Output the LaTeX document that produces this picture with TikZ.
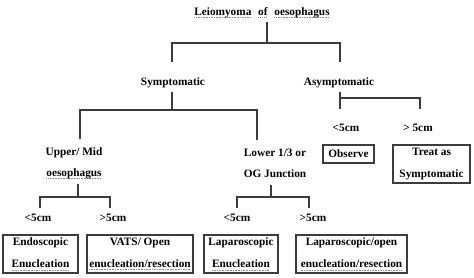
\documentclass[tikz,border=0pt]{standalone}
\usepackage{fontspec}
\setmainfont{Liberation Serif}
\usepackage{tikz}
\definecolor{spellgrey}{HTML}{8C8C8C}
\definecolor{linegrey}{HTML}{3C3C3C}
\newsavebox\spellbox
\newcommand\spell[1]{\sbox\spellbox{#1}\rlap{\textcolor{spellgrey}{\hbox to\wd\spellbox{\xleaders\hbox{\rule[-2.8pt]{1pt}{0.7pt}\kern0.6pt}\hfill}}}\usebox\spellbox}

\begin{document}
\begin{tikzpicture}[x=1pt, y=1pt,
  label/.style={inner sep=2pt, font=\fontsize{11.3}{21}\selectfont\bfseries, align=center},
  choice/.style={draw=linegrey, line width=1.3pt, inner sep=1pt, minimum height=38pt,
    align=center, font=\fontsize{11.3}{22}\selectfont\bfseries},
  link/.style={draw=linegrey, line width=1.2pt}]
  \useasboundingbox (0,0) rectangle (474,-277);
  % headings
  \node[label, anchor=base] (root) at (262,-15.2) {\spell{Leiomyoma}\hspace{0.6em}\spell{of}\hspace{0.6em}\spell{oesophagus}};
  \node[label, anchor=base] (symp) at (173,-85) {Symptomatic};
  \node[label, anchor=base] (asym) at (339,-85) {Asymptomatic};
  \node[label] (upper) at (74,-163) {Upper/ Mid\\\spell{oesophagus}};
  \node[label] (lower) at (275,-163) {Lower 1/3 or\\OG Junction};
  % size labels
  \node[label, anchor=base] (uless) at (38,-221.5) {<5cm};
  \node[label, anchor=base] (umore) at (113,-221.5) {>5cm};
  \node[label, anchor=base] (lless) at (237,-221.5) {<5cm};
  \node[label, anchor=base] (lmore) at (313,-221.5) {>5cm};
  \node[label, anchor=base] (aless) at (346,-131) {<5cm};
  \node[label, anchor=base] (amore) at (418,-131) {> 5cm};
  % treatments
  \node[choice, minimum width=75pt] (endo) at (40.5,-254) {Endoscopic\\\spell{Enucleation}};
  \node[choice, minimum width=106pt] (vats) at (140,-254) {VATS/ Open\\\spell{enucleation/resection}};
  \node[choice, minimum width=74pt] (lapa) at (241,-254) {Laparoscopic\\\spell{Enucleation}};
  \node[choice, minimum width=111pt] (lapo) at (351.5,-254) {Laparoscopic/open\\\spell{enucleation/resection}};
  \node[choice, minimum width=51pt, minimum height=18pt] (obs) at (348.5,-154) {Observe};
  \node[choice, minimum width=77pt] (treat) at (431.5,-164) {Treat as\\Symptomatic};
  % forks
  \coordinate (rootfork) at (267,-43);
  \coordinate (sympfork) at (172,-110);
  \coordinate (asymfork) at (340,-98);
  \coordinate (upperfork) at (78,-197);
  \coordinate (lowerfork) at (271,-197);
  \draw[link, shorten <=2pt] (root.south -| rootfork) -- (rootfork);
  \draw[link, shorten >=13pt] (rootfork) -| ([xshift=-1pt]symp.north);
  \draw[link, shorten >=13pt] (rootfork) -| ([xshift=1pt]asym.north);
  \draw[link, shorten <=2.5pt] (symp.south -| sympfork) -- (sympfork);
  \draw[link, shorten >=6pt] (sympfork) -| ([xshift=6pt]upper.north);
  \draw[link, shorten >=6pt] (sympfork) -| ([xshift=-18pt]lower.north);
  \draw[link, shorten <=2.5pt, shorten >=12pt] (asym.south -| asymfork) -- (aless.north -| asymfork);
  \draw[link, shorten >=12pt] (asymfork) -| ([xshift=2pt]amore.north);
  \draw[link, shorten <=3pt] (upper.south -| upperfork) -- (upperfork);
  \draw[link, shorten >=3.8pt] (upperfork) -| ([xshift=2pt]uless.north);
  \draw[link, shorten >=3.8pt] (upperfork) -| ([xshift=-3pt]umore.north);
  \draw[link, shorten <=5pt] (lower.south -| lowerfork) -- (lowerfork);
  \draw[link, shorten >=3.8pt] (lowerfork) -| (lless.north);
  \draw[link, shorten >=3.8pt] (lowerfork) -| ([xshift=-4pt]lmore.north);
\end{tikzpicture}
\end{document}
